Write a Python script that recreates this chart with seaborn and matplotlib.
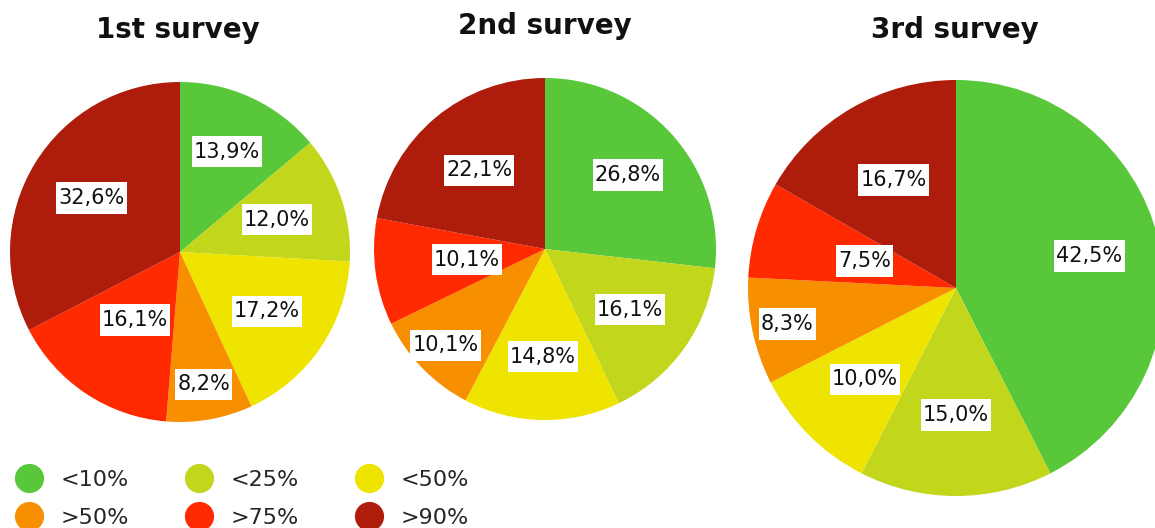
import matplotlib
matplotlib.use("Agg")
import numpy as np
import matplotlib.pyplot as plt
from matplotlib.lines import Line2D
from matplotlib.path import Path
import seaborn as sns

# Response share per category in each survey round
categories = ["<10%", "<25%", "<50%", ">50%", ">75%", ">90%"]
survey_titles = ["1st survey", "2nd survey", "3rd survey"]
survey_1 = [13.9, 12.0, 17.2, 8.2, 16.1, 32.6]
survey_2 = [26.8, 16.1, 14.8, 10.1, 10.1, 22.1]
survey_3 = [42.5, 15.0, 10.0, 8.3, 7.5, 16.7]
colors = ["#58C83A", "#C2D61C", "#EEE400", "#F78F00", "#FF2A00", "#AE1C0C"]

sns.set_theme(style="white")
plt.rcParams["font.family"] = ["DejaVu Sans"]

W, H = 1155, 528
fig = plt.figure(figsize=(W / 100, H / 100), dpi=100)
fig.patch.set_facecolor("white")

# pie centre (px), radius (px), title centre (px), radial label distances
layout = [
    ((180, 252), 170, (178, 30), [0.65, 0.60, 0.62, 0.79, 0.48, 0.61]),
    ((545, 249), 171, (545, 26), [0.65, 0.61, 0.63, 0.81, 0.46, 0.60]),
    ((956, 288), 208, (955, 30), [0.66, 0.61, 0.62, 0.83, 0.46, 0.60]),
]


def label_box(x0, y0, width, height, mutation_size):
    """Tight horizontally, taller vertically."""
    px = 0.10 * mutation_size
    py = 0.27 * mutation_size
    x0, y0 = x0 - px, y0 - py
    x1, y1 = x0 + width + 2 * px, y0 + height + 2 * py
    return Path([(x0, y0), (x1, y0), (x1, y1), (x0, y1), (x0, y0)], closed=True)


def fmt(p):
    return f"{p:.1f}".replace(".", ",") + "%"


for values, title, ((cx, cy), r, (tx, ty), dists) in zip(
    [survey_1, survey_2, survey_3], survey_titles, layout
):
    ax = fig.add_axes([(cx - r) / W, (H - cy - r) / H, 2 * r / W, 2 * r / H])
    wedges, texts, autotexts = ax.pie(
        values,
        colors=colors,
        startangle=90,
        counterclock=False,
        radius=1.0,
        autopct=fmt,
        pctdistance=0.65,
        wedgeprops=dict(linewidth=0),
        textprops=dict(fontsize=15, color="#111111"),
    )
    for w, t, d in zip(wedges, autotexts, dists):
        mid = np.deg2rad((w.theta1 + w.theta2) / 2)
        t.set_position((d * np.cos(mid), d * np.sin(mid)))
        t.set_bbox(dict(boxstyle=label_box, fc="white", ec="none"))
    ax.set_xlim(-1, 1)
    ax.set_ylim(-1, 1)
    ax.set_aspect("equal")
    ax.axis("off")
    fig.text(tx / W, 1 - ty / H, title, ha="center", va="center",
             fontsize=20, fontweight="bold", color="#111111")

# legend laid out row by row (matplotlib fills columns first)
order = [0, 3, 1, 4, 2, 5]
handles = [Line2D([], [], marker="o", ls="", color=colors[i], markersize=20) for i in order]
fig.legend(
    handles, [categories[i] for i in order],
    ncol=3, loc="upper left",
    bbox_to_anchor=(15 / W, 1 - 470 / H),
    frameon=False, fontsize=16,
    handlelength=1.3, handletextpad=0.77,
    columnspacing=2.5, labelspacing=0.82,
    borderpad=0, borderaxespad=0,
)

fig.savefig("out.png", dpi=100, facecolor="white")
